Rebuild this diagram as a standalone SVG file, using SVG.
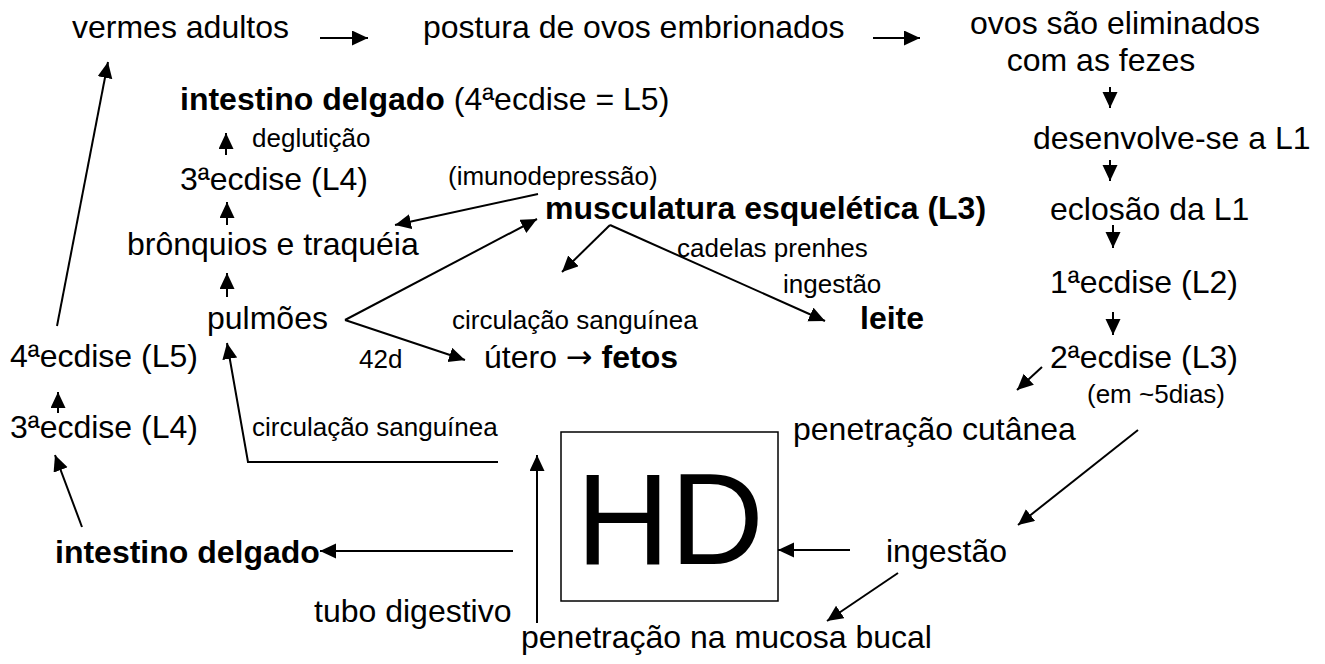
<svg xmlns="http://www.w3.org/2000/svg" width="1325" height="664" viewBox="0 0 1325 664">
<style>
text{font-family:"Liberation Sans",Arial,sans-serif;fill:#000}
.m{font-size:32px}
.s{font-size:26px}
.b{font-weight:bold}
.ar{font-family:"DejaVu Sans",sans-serif}
.c{stroke:#000;stroke-width:2;fill:none;marker-end:url(#ah)}
</style>
<defs>
<marker id="ah" markerUnits="userSpaceOnUse" markerWidth="18" markerHeight="16" refX="16" refY="7.5" orient="auto">
<path d="M0,0 L16,7.5 L0,15 z" fill="#000"/>
</marker>
</defs>
<rect width="1325" height="664" fill="#fff"/>
<g id="n-vermes"><text class="m" x="72" y="38">vermes adultos</text></g>
<g id="n-postura"><text class="m" x="423" y="38">postura de ovos embrionados</text></g>
<g id="n-ovos"><text class="m" x="1115" y="34" text-anchor="middle">ovos são eliminados</text><text class="m" x="1101" y="71" text-anchor="middle">com as fezes</text></g>
<g id="n-desenv"><text class="m" x="1033" y="149">desenvolve-se a L1</text></g>
<g id="n-eclosao"><text class="m" x="1050" y="220">eclosão da L1</text></g>
<g id="n-ecd1"><text class="m" x="1050" y="293">1ªecdise (L2)</text></g>
<g id="n-ecd2"><text class="m" x="1050" y="368">2ªecdise (L3)</text><text class="s" x="1087" y="403">(em ~5dias)</text></g>
<g id="n-cutanea"><text class="m" x="793" y="440">penetração cutânea</text></g>
<g id="n-ingestao"><text class="m" x="886" y="562">ingestão</text></g>
<g id="n-mucosa"><text class="m" x="521" y="648">penetração na mucosa bucal</text></g>
<g id="n-hd"><rect x="561" y="432" width="217" height="169" fill="none" stroke="#000" stroke-width="1.5"/><text x="670" y="564" text-anchor="middle" font-size="130">HD</text></g>
<g id="n-tubo"><text class="m" x="314" y="622">tubo digestivo</text></g>
<g id="n-intest2"><text class="m b" x="55" y="563">intestino delgado</text></g>
<g id="n-ecd3b"><text class="m" x="10" y="438">3ªecdise (L4)</text></g>
<g id="n-ecd4b"><text class="m" x="10" y="367">4ªecdise (L5)</text></g>
<g id="n-circ2"><text class="s" x="252" y="436">circulação sanguínea</text></g>
<g id="n-pulmoes"><text class="m" x="207" y="329">pulmões</text></g>
<g id="n-bronq"><text class="m" x="127" y="255">brônquios e traquéia</text></g>
<g id="n-ecd3a"><text class="m" x="180" y="190">3ªecdise (L4)</text></g>
<g id="n-deglut"><text class="s" x="252" y="147">deglutição</text></g>
<g id="n-intest1"><text class="m" x="180" y="110"><tspan class="b">intestino delgado</tspan> (4ªecdise = L5)</text></g>
<g id="n-imuno"><text class="s" x="448" y="185">(imunodepressão)</text></g>
<g id="n-musc"><text class="m b" x="545" y="219">musculatura esquelética (L3)</text></g>
<g id="n-cadelas"><text class="s" x="677" y="257">cadelas prenhes</text></g>
<g id="n-ingestao2"><text class="s" x="783" y="293">ingestão</text></g>
<g id="n-leite"><text class="m b" x="860" y="329">leite</text></g>
<g id="n-circ1"><text class="s" x="452" y="329">circulação sanguínea</text></g>
<g id="n-42d"><text class="s" x="359" y="368">42d</text></g>
<g id="n-utero"><text class="m" x="484" y="368">útero <tspan class="ar">→</tspan> <tspan class="b">fetos</tspan></text></g>
<g id="connectors">
<line class="c" x1="320" y1="38" x2="368" y2="38"/>
<line class="c" x1="873" y1="38" x2="920" y2="38"/>
<line class="c" x1="1110" y1="87" x2="1110" y2="108"/>
<line class="c" x1="1110" y1="160" x2="1110" y2="181"/>
<line class="c" x1="1113" y1="225" x2="1113" y2="248"/>
<line class="c" x1="1113" y1="312" x2="1113" y2="335"/>
<line class="c" x1="1042" y1="367" x2="1017" y2="390"/>
<line class="c" x1="1138" y1="430" x2="1018" y2="525"/>
<line class="c" x1="850" y1="550" x2="778" y2="550"/>
<line class="c" x1="898" y1="573" x2="827" y2="621"/>
<line class="c" x1="537" y1="623" x2="537" y2="455"/>
<line class="c" x1="513" y1="551" x2="320" y2="551"/>
<line class="c" x1="82" y1="527" x2="55" y2="455"/>
<line class="c" x1="58" y1="413" x2="58" y2="392"/>
<line class="c" x1="57" y1="326" x2="108" y2="62"/>
<polyline class="c" points="498,462 248,462 227,343"/>
<line class="c" x1="226" y1="155" x2="226" y2="133"/>
<line class="c" x1="227" y1="225" x2="227" y2="202"/>
<line class="c" x1="227" y1="297" x2="227" y2="273"/>
<line class="c" x1="538" y1="194" x2="395" y2="225"/>
<line class="c" x1="345" y1="320" x2="537" y2="219"/>
<line class="c" x1="345" y1="320" x2="465" y2="360"/>
<line class="c" x1="610" y1="225" x2="562" y2="272"/>
<line class="c" x1="610" y1="225" x2="825" y2="321"/>
</g>
</svg>
